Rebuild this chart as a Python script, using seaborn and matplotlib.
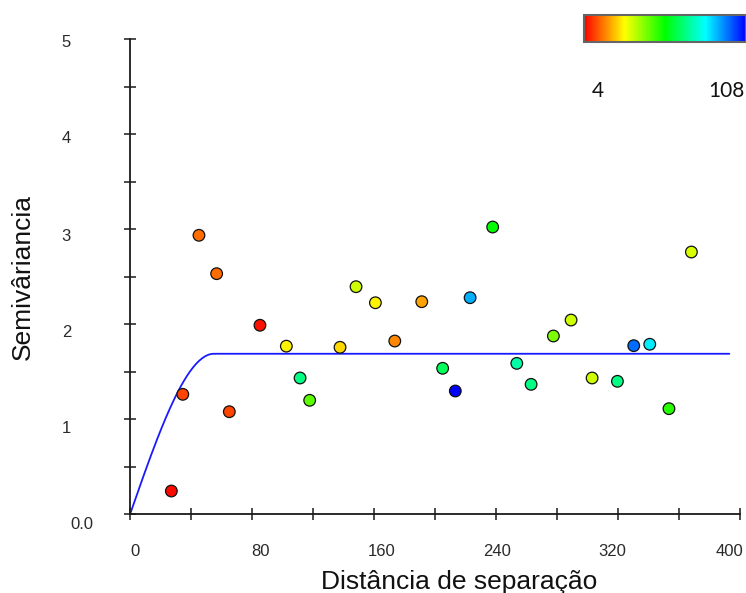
import numpy as np
import pandas as pd
import matplotlib
matplotlib.use("Agg")
import matplotlib.pyplot as plt
import matplotlib.transforms as mtransforms
from matplotlib.colors import LinearSegmentedColormap, Normalize
from matplotlib.cm import ScalarMappable
import seaborn as sns

# Empirical semivariogram: lag distance, semivariance and number of pairs per lag
lag_distance = [27.1, 34.6, 45.2, 56.8, 65.1, 85.2, 102.5, 111.5, 117.8, 137.7,
                148.2, 160.9, 173.6, 191.3, 205.0, 213.3, 223.0, 237.8, 253.6, 263.0,
                277.6, 289.2, 303.0, 319.6, 330.3, 340.8, 353.4, 368.1]
semivariance = [0.245, 1.263, 2.937, 2.533, 1.080, 1.990, 1.770, 1.435, 1.200, 1.758,
                2.396, 2.227, 1.824, 2.238, 1.537, 1.298, 2.280, 3.024, 1.589, 1.368,
                1.877, 2.045, 1.435, 1.400, 1.775, 1.790, 1.112, 2.761]
n_pairs = [5, 11, 15, 15, 11, 6, 29, 69, 47, 26,
           35, 29, 18, 21, 65, 108, 90, 56, 73, 69,
           43, 35, 35, 69, 97, 84, 52, 34]

# Fitted spherical model parameters
nugget = 0.0
sill = 1.69
model_range = 55.0
model_max_lag = 393.0

pairs_min, pairs_max = 4, 108
x_ticks = [0, 80, 160, 240, 320, 400]
y_ticks = [1, 2, 3, 4, 5]

df = pd.DataFrame({"lag": lag_distance, "gamma": semivariance, "pairs": n_pairs})

h = np.linspace(0, model_max_lag, 400)
hr = np.clip(h / model_range, 0, 1)
model = pd.DataFrame({"lag": h,
                      "gamma": nugget + (sill - nugget) * (1.5 * hr - 0.5 * hr ** 3)})

sns.set_theme(style="white")
plt.rcParams["font.family"] = ["Liberation Sans", "DejaVu Sans"]

cmap = LinearSegmentedColormap.from_list(
    "pairs", ["#ff0000", "#ffff00", "#00ff00", "#00ffff", "#0000ff"])

fig = plt.figure(figsize=(7.46, 5.93), dpi=100)
ax = fig.add_axes([0.1743, 0.1327, 0.8177, 0.801])

sns.lineplot(data=model, x="lag", y="gamma", ax=ax, color="#1a1aff", lw=1.3, zorder=2)
sns.scatterplot(data=df, x="lag", y="gamma", hue="pairs", palette=cmap,
                hue_norm=(pairs_min, pairs_max), legend=False, s=70,
                edgecolor="#111111", linewidth=0.9, ax=ax, zorder=3, clip_on=False)

ax.set_xlim(0, 400)
ax.set_ylim(0, 5)
for side in ("top", "right"):
    ax.spines[side].set_visible(False)
for side in ("left", "bottom"):
    ax.spines[side].set_color("#1a1a1a")
    ax.spines[side].set_linewidth(1.3)

ax.set_xticks(x_ticks)
ax.set_xticklabels([str(v) for v in x_ticks])
ax.set_xticks(np.arange(40, 400, 80), minor=True)
ax.set_yticks([0] + y_ticks)
ax.set_yticklabels([""] + [str(v) for v in y_ticks])
ax.set_yticks(np.arange(0.5, 5, 1.0), minor=True)

ax.tick_params(axis="both", which="both", direction="inout", length=9, width=1.1,
               color="#1a1a1a", labelcolor="#2a2a2a", labelsize=12)
ax.tick_params(axis="x", which="both", bottom=True, pad=17)
ax.tick_params(axis="y", which="both", left=True, pad=38)

# Nudge the tick labels the way the original software laid them out (pixels)
x_label_shift = [4.5, 8, 7.7, 1.5, -6, -11]
y_label_shift = [0, -8, -6.7, -6, -2.7, -1.4]
for lbl, dx in zip(ax.get_xticklabels(), x_label_shift):
    lbl.set_transform(lbl.get_transform() +
                      mtransforms.ScaledTranslation(dx / 100, 0, fig.dpi_scale_trans))
for lbl, dy in zip(ax.get_yticklabels(), y_label_shift):
    lbl.set_transform(lbl.get_transform() +
                      mtransforms.ScaledTranslation(0, dy / 100, fig.dpi_scale_trans))

ax.annotate("0.0", xy=(0, 0), xycoords="data", xytext=(-26.5, -7.5),
            textcoords="offset points", ha="right", va="center",
            fontsize=12, color="#2a2a2a", annotation_clip=False)

ax.set_xlabel("Distância de separação", fontsize=19, color="#111111",
              labelpad=8, x=0.539)
ax.set_ylabel("Semivâriancia", fontsize=19, color="#111111", labelpad=19)

# Colour scale for the number of pairs
cax = fig.add_axes([584 / 746, 1 - 42 / 593, 162 / 746, 27 / 593])
cb = fig.colorbar(ScalarMappable(norm=Normalize(pairs_min, pairs_max), cmap=cmap),
                  cax=cax, orientation="horizontal")
cb.set_ticks([])
cb.outline.set_edgecolor("#666666")
cb.outline.set_linewidth(1.5)
fig.text(598 / 746, 1 - 91 / 593, str(pairs_min), ha="center", va="center",
         fontsize=15, family=["Lato", "DejaVu Sans"], color="#111111")
fig.text(726 / 746, 1 - 91 / 593, str(pairs_max), ha="center", va="center",
         fontsize=15, family=["Lato", "DejaVu Sans"], color="#111111")

fig.savefig("out.png", dpi=100)
